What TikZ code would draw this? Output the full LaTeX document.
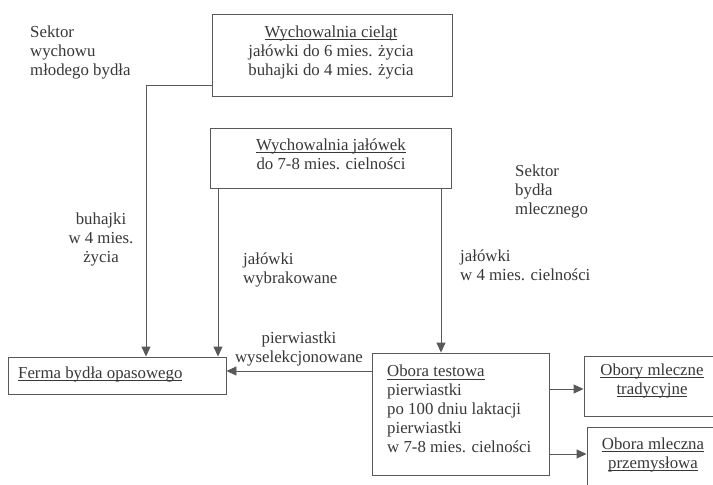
\documentclass[tikz,border=0pt]{standalone}
\usepackage{fontspec}
\setmainfont{Liberation Serif}
\usetikzlibrary{arrows.meta}
\definecolor{ink}{gray}{0.22}
\definecolor{rulegray}{gray}{0.35}
% underline at a fixed distance below the baseline, independent of descenders
\newsavebox{\ulinedbox}
\newcommand{\ulined}[1]{\sbox{\ulinedbox}{#1}\rlap{\rule[-2.6pt]{\wd\ulinedbox}{0.7pt}}\usebox{\ulinedbox}}
\begin{document}
\begin{tikzpicture}[x=1pt,y=-1pt,
  box/.style={draw=rulegray, line width=0.9pt, inner sep=0pt},
  txt/.style={text=ink, inner sep=0pt, font=\fontsize{16.8}{19}\selectfont},
  arr/.style={draw=rulegray, line width=0.9pt, -{Triangle[length=10pt,width=9pt]}}]

% page frame
\path[use as bounding box, fill=white] (0,0) rectangle (713,485);
\clip (0,0) rectangle (713,485);

% boxes
\node[box, minimum width=240pt, minimum height=82pt] (cielat) at (332,55) {};
\node[box, minimum width=241pt, minimum height=60pt] (jal) at (330.5,158) {};
\node[box, minimum width=218pt, minimum height=37pt] (ferma) at (117,375.5) {};
\node[box, minimum width=177pt, minimum height=122pt] (testowa) at (460.5,414) {};
\node[box, minimum width=140pt, minimum height=60pt] (trad) at (654,386) {};
\node[box, minimum width=137pt, minimum height=63pt] (przem) at (655.5,458.5) {};

% box texts
\node[txt, align=center] (cielat-t) at (331,52)
  {\ulined{Wychowalnia cieląt}\\jałówki do 6 mies. życia\\buhajki do 4 mies. życia};
\node[txt, align=center] (jal-t) at (331,154)
  {\ulined{Wychowalnia jałówek}\\do 7-8 mies. cielności};
\node[txt, anchor=west] (ferma-t) at (18,374) {\ulined{Ferma bydła opasowego}};
\node[txt, align=left, anchor=west] (testowa-t) at (387,409)
  {\ulined{Obora testowa}\\pierwiastki\\po 100 dniu laktacji\\pierwiastki\\w 7-8 mies. cielności};
\node[txt, align=center] (trad-t) at (652,381)
  {\ulined{Obory mleczne}\\\ulined{tradycyjne}};
\node[txt, align=center] (przem-t) at (653,455)
  {\ulined{Obora mleczna}\\\ulined{przemysłowa}};

% free labels
\node[txt, align=left, anchor=west] (sek1) at (30,52) {Sektor\\wychowu\\młodego bydła};
\node[txt, align=left, anchor=west] (sek2) at (515,191) {Sektor\\bydła\\mlecznego};
\node[txt, align=center] (buh) at (101,239) {buhajki\\w 4 mies.\\życia};
\node[txt, align=left, anchor=west] (jwyb) at (243,269.5) {jałówki\\wybrakowane};
\node[txt, align=left, anchor=west] (j4) at (460,265) {jałówki\\w 4 mies. cielności};
\node[txt, align=center] (pw) at (299,349) {pierwiastki\\wyselekcjonowane};

% connectors
\coordinate (k1) at (146,85);
\draw[arr] (cielat.west |- k1) -- (k1) -- (k1 |- ferma.north);
\coordinate (k2) at (218,0);
\draw[arr] (k2 |- jal.south) -- (k2 |- ferma.north);
\coordinate (k3) at (441,0);
\draw[arr] (k3 |- jal.south) -- (k3 |- testowa.north);
\coordinate (k4) at (0,371);
\draw[arr] (testowa.west |- k4) -- (ferma.east |- k4);
\coordinate (k5) at (0,389);
\draw[arr] (testowa.east |- k5) -- (trad.west |- k5);
\coordinate (k6) at (0,454);
\draw[arr] (testowa.east |- k6) -- (przem.west |- k6);
\end{tikzpicture}
\end{document}
